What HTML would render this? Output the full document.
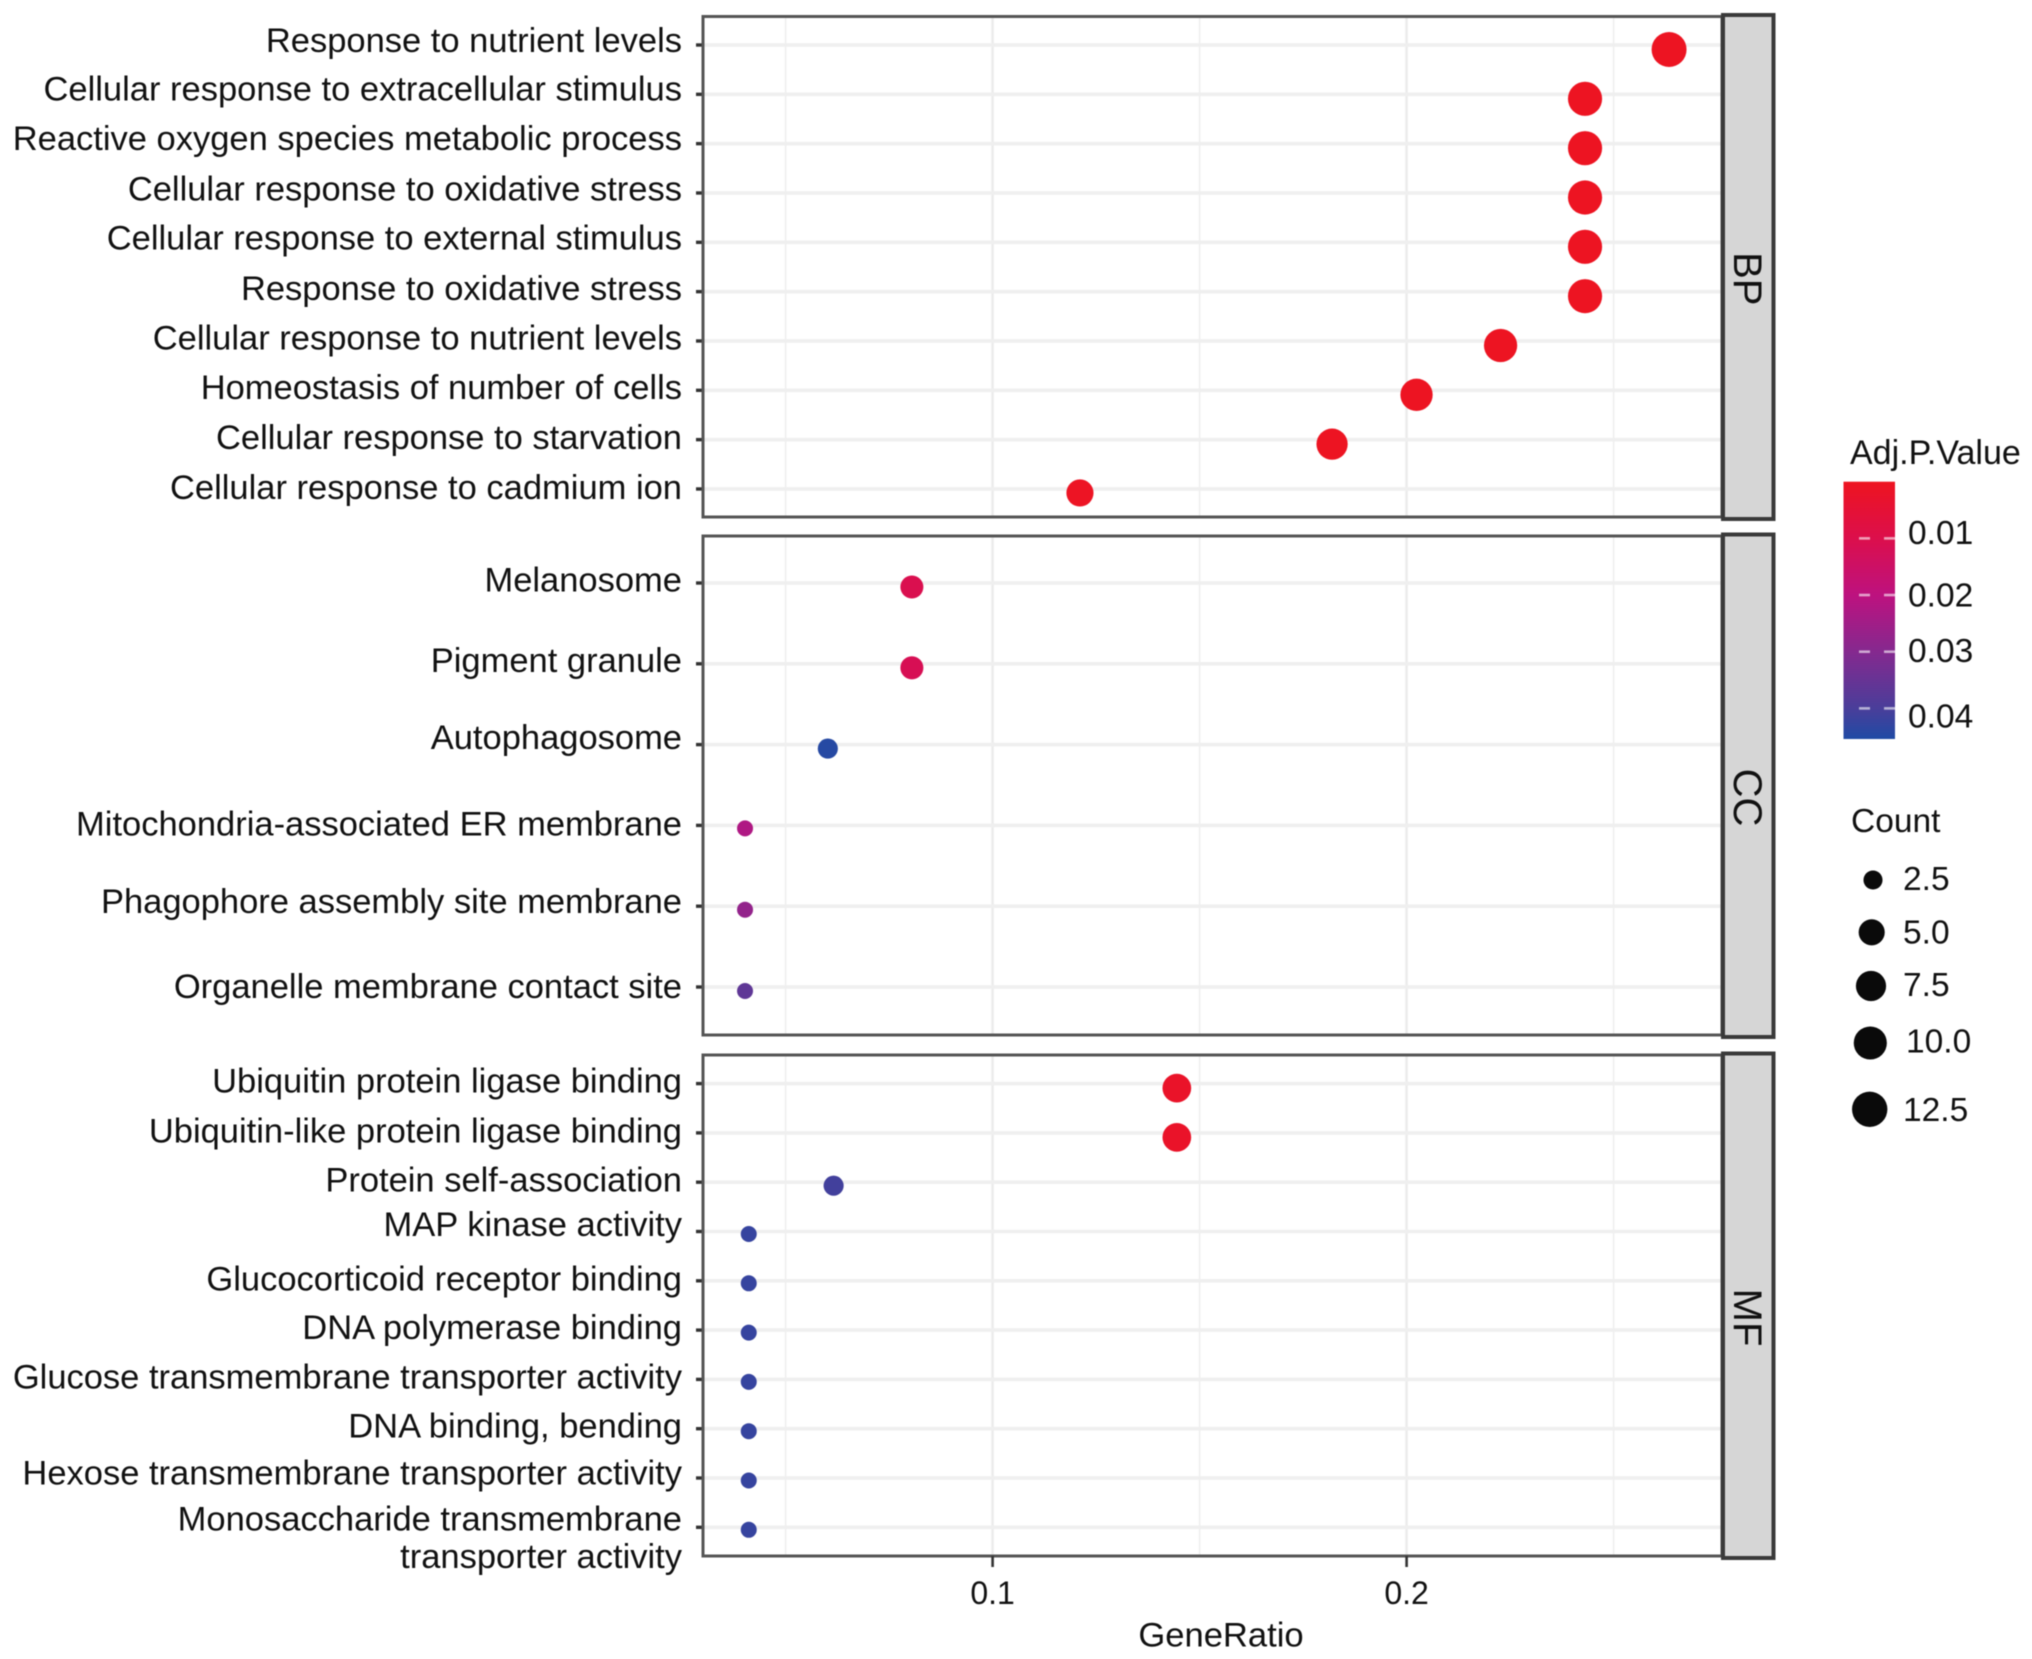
<!DOCTYPE html>
<html lang="en">
<head>
<meta charset="utf-8">
<title>GO enrichment dot plot</title>
<style>
  html, body { margin: 0; padding: 0; background: #ffffff; }
  body { width: 2032px; height: 1659px; overflow: hidden; }
  svg { display: block; filter: blur(0.6px); }
  text { font-family: "Liberation Sans", Arial, sans-serif; fill: #111111; }
</style>
</head>
<body>
<svg id="chart" xmlns="http://www.w3.org/2000/svg" width="2032" height="1659" viewBox="0 0 2032 1659">
  <rect x="0" y="0" width="2032" height="1659" fill="#ffffff"></rect>
  <defs>
    <linearGradient id="pGradient" x1="0" y1="0" x2="0" y2="1"></linearGradient>
  </defs>
  <text x="1221" y="1646.5" font-size="34.6" text-anchor="middle">GeneRatio</text>
  <text x="1850" y="464" font-size="34">Adj.P.Value</text>
  <text x="1851" y="832" font-size="33.5">Count</text>
</svg>
<script>
// ---- data: Biological Process ----
const bpTerms = ["Response to nutrient levels", "Cellular response to extracellular stimulus", "Reactive oxygen species metabolic process", "Cellular response to oxidative stress", "Cellular response to external stimulus", "Response to oxidative stress", "Cellular response to nutrient levels", "Homeostasis of number of cells", "Cellular response to starvation", "Cellular response to cadmium ion"];
const bpRatio = [0.2634, 0.2431, 0.2431, 0.2431, 0.2431, 0.2431, 0.2227, 0.2024, 0.182, 0.1211];
const bpCount = [13, 12, 12, 12, 12, 12, 11, 10, 9, 6];
const bpPadj = [0.0005, 0.0005, 0.0005, 0.0005, 0.0005, 0.0005, 0.0005, 0.0005, 0.0005, 0.0008];

// ---- data: Cellular Component ----
const ccTerms = ["Melanosome", "Pigment granule", "Autophagosome", "Mitochondria-associated ER membrane", "Phagophore assembly site membrane", "Organelle membrane contact site"];
const ccRatio = [0.0805, 0.0805, 0.0602, 0.0402, 0.0402, 0.0402];
const ccCount = [4, 4, 3, 2, 2, 2];
const ccPadj = [0.0105, 0.0115, 0.0445, 0.0225, 0.0275, 0.0365];

// ---- data: Molecular Function ----
const mfTerms = ["Ubiquitin protein ligase binding", "Ubiquitin-like protein ligase binding", "Protein self-association", "MAP kinase activity", "Glucocorticoid receptor binding", "DNA polymerase binding", "Glucose transmembrane transporter activity", "DNA binding, bending", "Hexose transmembrane transporter activity", "Monosaccharide transmembrane\ntransporter activity"];
const mfRatio = [0.1445, 0.1445, 0.0616, 0.0411, 0.0411, 0.0411, 0.0411, 0.0411, 0.0411, 0.0411];
const mfCount = [7, 7, 3, 2, 2, 2, 2, 2, 2, 2];
const mfPadj = [0.002, 0.002, 0.041, 0.0425, 0.0425, 0.0425, 0.0425, 0.0425, 0.0425, 0.0425];

// ---- axis and legend values ----
const xMajorTicks = [0.1, 0.2];
const xMinorBreaks = [0.05, 0.15, 0.25];
const pBreaks = [0.01, 0.02, 0.03, 0.04];
const sizeBreaks = [2.5, 5, 7.5, 10, 12.5];

// ---- colour ramp ----
const rampP = [0, 0.01, 0.02, 0.03, 0.04, 0.0454];
const rampColor = ["#ee1420", "#dc0f4c", "#bd127f", "#85298f", "#4a3e9a", "#1f4ba5"];

const svg = document.getElementById('chart');
const NS = 'http://www.w3.org/2000/svg';
const plotL = 703, plotR = 1722;

function mk(tag, attrs, parent) {
  const el = document.createElementNS(NS, tag);
  for (const k in attrs) el.setAttribute(k, attrs[k]);
  (parent || svg).appendChild(el);
  return el;
}
function slug(s) {
  return s.toLowerCase().replace(/[^a-z0-9]+/g, '-').replace(/^-|-$/g, '');
}
// axis functions
function xScale(v) { return 992.6 + (v - 0.1) * 4140; }
function rScale(c) { return 8 + 5.07 * Math.log(c / 2); }
function pY(p) { return 481.7 + p * 5667; }
function hex(c) { return [1, 3, 5].map(function (i) { return parseInt(c.substr(i, 2), 16); }); }
function pColor(p) {
  let i = 0;
  while (i < rampP.length - 2 && p > rampP[i + 1]) i++;
  const t = Math.max(0, Math.min(1, (p - rampP[i]) / (rampP[i + 1] - rampP[i])));
  const a = hex(rampColor[i]), b = hex(rampColor[i + 1]);
  return 'rgb(' + a.map(function (x, k) { return Math.round(x + (b[k] - x) * t); }).join(',') + ')';
}

const panels = [
  { id: 'bp', strip: 'BP', top: 16.5, bottom: 517, grid0: 45, step: 49.33,
    dotShift: [4.5, 4.5, 4.5, 4.5, 4.5, 4.5, 4.5, 4.5, 4.5, 4],
    labelShift: [6.9, 6.2, 6.5, 7.5, 7.1, 8.1, 8.5, 8.5, 9.5, 10],
    terms: bpTerms, ratio: bpRatio, count: bpCount, padj: bpPadj },
  { id: 'cc', strip: 'CC', top: 536, bottom: 1035, grid0: 583, step: 80.8,
    dotShift: [4, 4, 4, 3, 3.5, 4],
    labelShift: [8.5, 8, 4.5, 10, 7, 11],
    terms: ccTerms, ratio: ccRatio, count: ccCount, padj: ccPadj },
  { id: 'mf', strip: 'MF', top: 1055, bottom: 1556, grid0: 1083.6, step: 49.3,
    dotShift: [4.5, 4.5, 3.5, 2.5, 2.5, 2.5, 2.5, 2.5, 2.5, 2.5],
    labelShift: [9, 9.5, 9.5, 4.7, 9.5, 9, 9, 8.6, 6.5, 3],
    terms: mfTerms, ratio: mfRatio, count: mfCount, padj: mfPadj }
];

panels.forEach(function (p) {
  const group = mk('g', {});
  
  

  xMinorBreaks.forEach(function (v) {
    const g = mk('line', { x1: xScale(v), x2: xScale(v), y1: p.top, y2: p.bottom, stroke: '#efefef', 'stroke-width': 1.6 }, group);
    
    
  });
  xMajorTicks.forEach(function (v) {
    const g = mk('line', { x1: xScale(v), x2: xScale(v), y1: p.top, y2: p.bottom, stroke: '#ececec', 'stroke-width': 2.6 }, group);
    
    
  });

  p.terms.forEach(function (term, i) {
    const gy = p.grid0 + i * p.step;
    const g = mk('line', { x1: plotL, x2: plotR, y1: gy, y2: gy, stroke: '#efefef', 'stroke-width': 3.6 }, group);
    
    

    const t = mk('line', { x1: 696, x2: plotL, y1: gy, y2: gy, stroke: '#333333', 'stroke-width': 3.4 }, group);
    
    

    const lines = term.split('\n');
    lines.forEach(function (line, k) {
      const label = mk('text', { x: 682, y: gy + p.labelShift[i] + k * 37.5, 'font-size': 34.5, 'text-anchor': 'end' }, group);
      label.textContent = line;
      
      
    });
  });

  const frame = mk('rect', { x: plotL, y: p.top, width: plotR - plotL, height: p.bottom - p.top, fill: 'none', stroke: '#555555', 'stroke-width': 3 }, group);
  
  

  p.terms.forEach(function (term, i) {
    const c = mk('circle', {
      cx: xScale(p.ratio[i]),
      cy: p.grid0 + i * p.step + p.dotShift[i],
      r: rScale(p.count[i]),
      fill: pColor(p.padj[i])
    }, group);
    
    
  });

  const strip = mk('rect', { x: 1723, y: p.top - 1.5, width: 50.5, height: p.bottom - p.top + 3.5, fill: '#d6d6d6', stroke: '#3a3a3a', 'stroke-width': 4 }, group);
  
  
  const cy = (p.top + p.bottom) / 2 + 12;
  const st = mk('text', { x: 0, y: 0, 'font-size': 40, 'text-anchor': 'middle', transform: 'translate(1734 ' + cy + ') rotate(90)' }, group);
  st.textContent = p.strip;
  
  
});

// x axis ticks and labels
xMajorTicks.forEach(function (v) {
  const t = mk('line', { x1: xScale(v), x2: xScale(v), y1: 1556, y2: 1567, stroke: '#333333', 'stroke-width': 2.6 });
  
  
  const l = mk('text', { x: xScale(v), y: 1604, 'font-size': 32, 'text-anchor': 'middle' });
  l.textContent = String(v);
  
  
});

// colour legend
const grad = document.getElementById('pGradient');
rampP.forEach(function (p, i) {
  const s = mk('stop', { offset: p / 0.0454, 'stop-color': rampColor[i] }, grad);
});
const bar = mk('rect', { x: 1843.5, y: pY(0), width: 51.5, height: pY(0.0454) - pY(0), fill: 'url(#pGradient)' });


const pLabelShift = [5.5, 11.5, 10.5, 19];
pBreaks.forEach(function (p, i) {
  const y = pY(p);
  const a = mk('line', { x1: 1859, x2: 1870, y1: y, y2: y, stroke: '#ffffff', 'stroke-opacity': 0.6, 'stroke-width': 2.6 });
  
  
  const b = mk('line', { x1: 1884, x2: 1895, y1: y, y2: y, stroke: '#ffffff', 'stroke-opacity': 0.6, 'stroke-width': 2.6 });
  
  
  const l = mk('text', { x: 1908, y: y + pLabelShift[i], 'font-size': 33.5 });
  l.textContent = p.toFixed(2);
  
  
});

// size legend
const sizeDotX = [1873, 1871.7, 1871, 1870.3, 1869.7];
const sizeDotY = [880, 932.3, 986, 1043, 1109.3];
const sizeLabelX = [1903, 1903, 1903, 1906, 1903];
const sizeLabelY = [890, 943.5, 996, 1052.5, 1121];
sizeBreaks.forEach(function (c, i) {
  const d = mk('circle', { cx: sizeDotX[i], cy: sizeDotY[i], r: rScale(c) + 0.4, fill: '#0a0a0a' });
  
  
  const l = mk('text', { x: sizeLabelX[i], y: sizeLabelY[i], 'font-size': 33.5 });
  l.textContent = c.toFixed(1);
  
  
});
</script>
</body>
</html>
